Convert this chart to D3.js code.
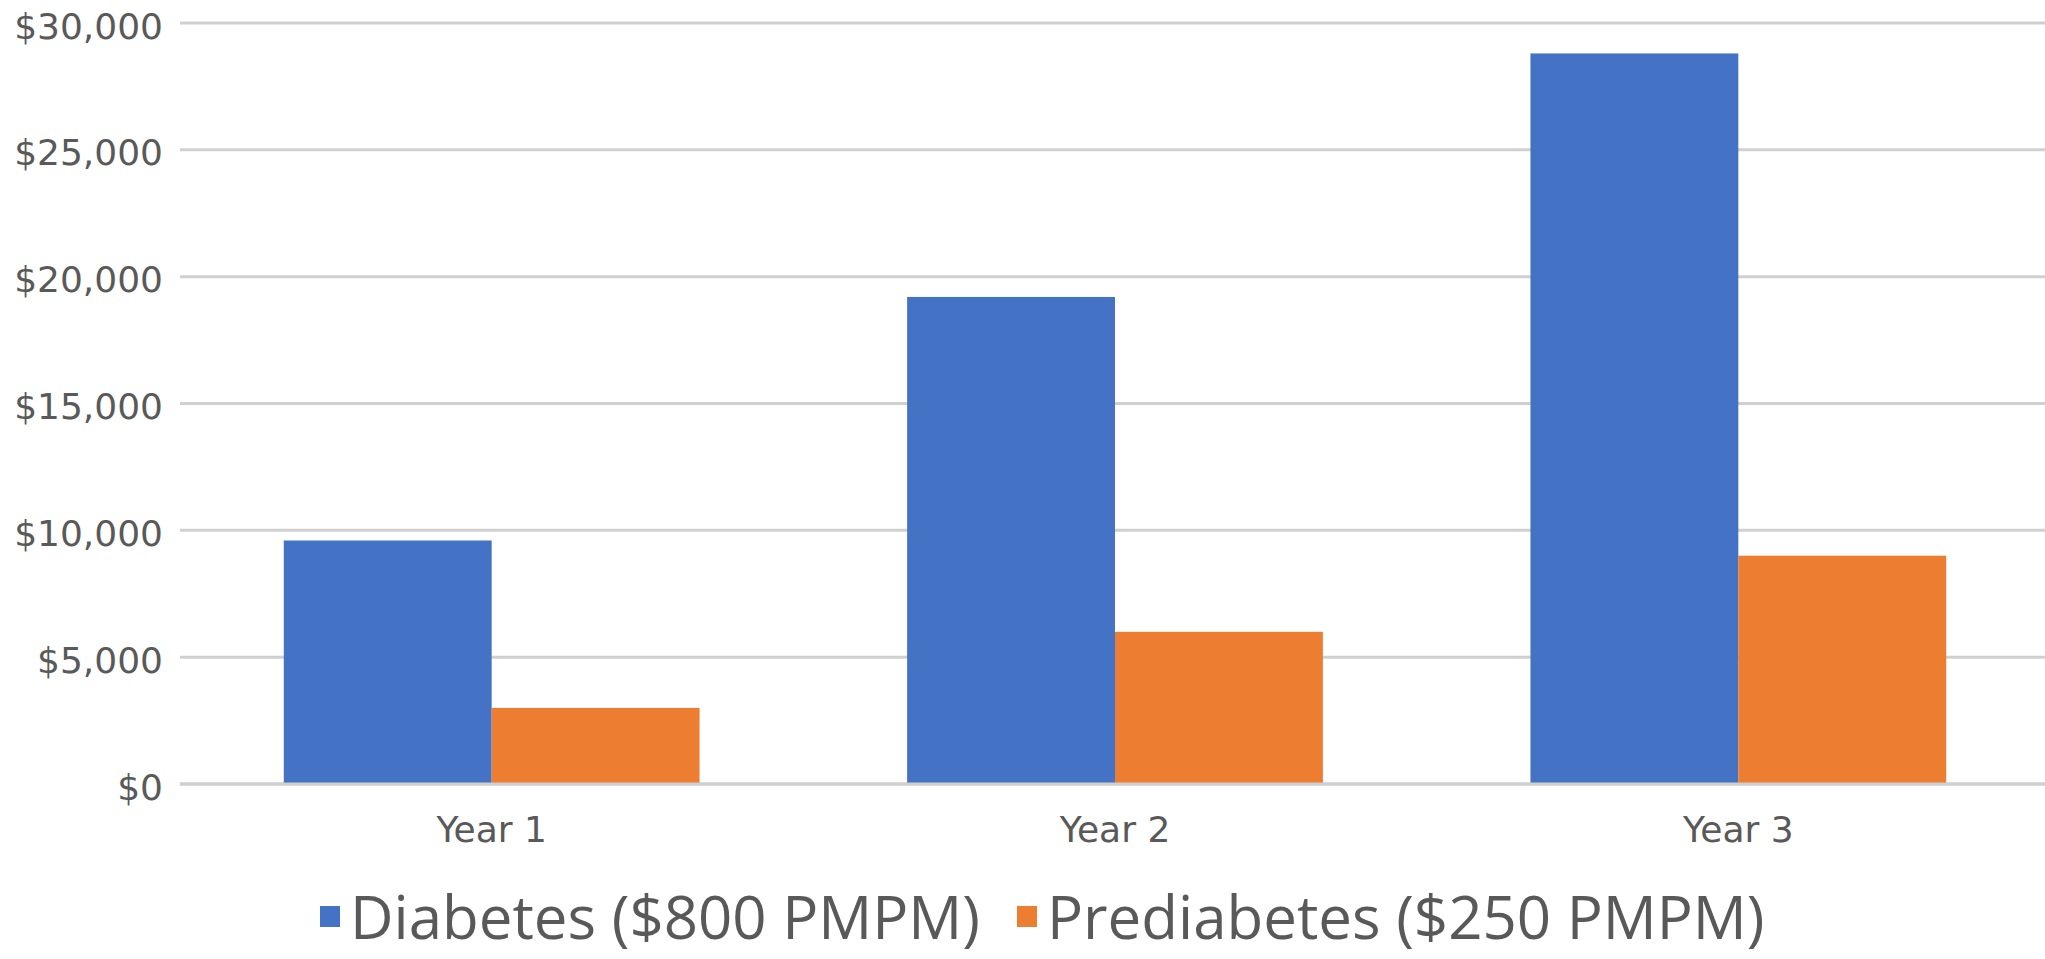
<!DOCTYPE html>
<html>
<head>
<meta charset="utf-8">
<script src="https://cdn.jsdelivr.net/npm/d3@7"></script>
<style>
  html, body { margin: 0; padding: 0; background: #ffffff; }
  svg { display: block; }
</style>
</head>
<body>
<svg id="chart" width="2045" height="959"></svg>
<script>
// Annual cost per member, by year
const years = ["Year 1", "Year 2", "Year 3"];
const seriesNames = ["Diabetes ($800 PMPM)", "Prediabetes ($250 PMPM)"];
const diabetesCost = [9600, 19200, 28800];
const prediabetesCost = [3000, 6000, 9000];
const yTicks = [0, 5000, 10000, 15000, 20000, 25000, 30000];
const seriesColors = ["#4472C4", "#ED7D31"];

const seriesValues = [diabetesCost, prediabetesCost];

const svg = d3.select("#chart");
const W = 2045;
const textColor = "#595959";

const y = d3.scaleLinear().domain([0, 30000]).range([784, 23]);
const x = d3.scaleBand().domain(years).range([180, 2050])
  .paddingInner(0.333).paddingOuter(0.1665);
const xs = d3.scaleBand().domain(d3.range(seriesNames.length)).range([0, x.bandwidth()]);

const fmt = v => "$" + d3.format(",")(v);

// Horizontal gridlines
svg.append("g").selectAll("line").data(yTicks).join("line")
  .attr("x1", 180).attr("x2", W)
  .attr("y1", d => y(d)).attr("y2", d => y(d))
  .attr("stroke", "#d0d0d0").attr("stroke-width", 3);

// Y axis labels
const yAxis = d3.axisLeft(y).tickValues(yTicks).tickFormat(fmt).tickSize(0).tickPadding(0);
const gy = svg.append("g").attr("transform", "translate(163,0)").call(yAxis);
gy.select(".domain").remove();
gy.selectAll("text")
  .attr("font-family", "'DejaVu Sans', sans-serif")
  .attr("font-size", 36)
  .attr("fill", textColor)
  .attr("dy", "0.42em")
  .attr("text-anchor", "end");

// Bars
const groups = svg.append("g").selectAll("g").data(years).join("g")
  .attr("transform", d => `translate(${x(d)},0)`);
groups.selectAll("rect")
  .data((d, i) => seriesValues.map((vals, s) => ({ s, v: vals[i] })))
  .join("rect")
  .attr("x", d => xs(d.s))
  .attr("width", xs.bandwidth())
  .attr("y", d => y(d.v))
  .attr("height", d => y(0) - y(d.v))
  .attr("fill", d => seriesColors[d.s]);

// Baseline over bar bottoms
svg.append("line")
  .attr("x1", 180).attr("x2", W)
  .attr("y1", y(0)).attr("y2", y(0))
  .attr("stroke", "#d0d0d0").attr("stroke-width", 3);

// X axis labels
const xAxis = d3.axisBottom(x).tickSize(0).tickPadding(0);
const gx = svg.append("g").attr("transform", "translate(0,842)").call(xAxis);
gx.select(".domain").remove();
gx.selectAll("text")
  .attr("font-family", "'DejaVu Sans', sans-serif")
  .attr("font-size", 36)
  .attr("fill", textColor)
  .attr("dy", 0);

// Legend
const legend = svg.append("g");
let lx = 320;
seriesNames.forEach((name, i) => {
  legend.append("rect")
    .attr("x", lx).attr("y", 906)
    .attr("width", 20).attr("height", 21)
    .attr("fill", seriesColors[i]);
  const t = legend.append("text")
    .attr("x", lx + 30).attr("y", 939)
    .attr("font-family", "'Open Sans', sans-serif")
    .attr("font-size", 60)
    .attr("fill", textColor)
    .text(name);
  lx = lx + 30 + t.node().getComputedTextLength() + 37;
});
</script>
</body>
</html>
